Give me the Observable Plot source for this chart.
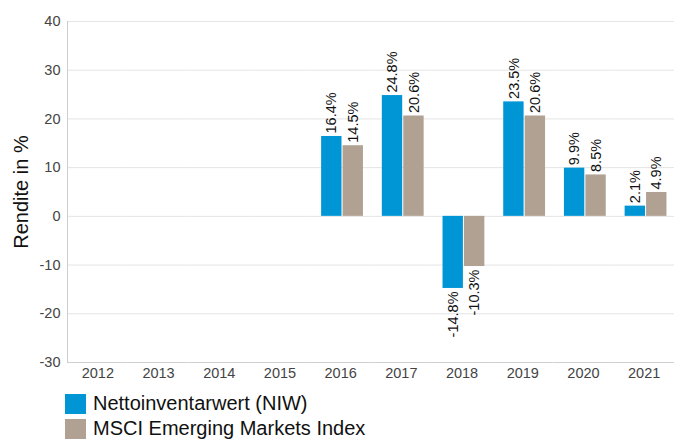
<!DOCTYPE html>
<html>
<head>
<meta charset="utf-8">
<script src="https://cdn.jsdelivr.net/npm/d3@7"></script>
<script src="https://cdn.jsdelivr.net/npm/@observablehq/plot@0.6"></script>
<style>
  body { margin: 0; background: #fff; font-family: "Liberation Sans", Arial, sans-serif; }
  #legend { margin-left: 65px; margin-top: 1px; }
  .item { display: flex; align-items: center; height: 25px; font-size: 20px; color: #111; }
  .sw { width: 21px; height: 20px; margin-right: 7px; }
</style>
</head>
<body>
<div id="chart"></div>
<div id="legend"></div>
<script>
const years = ["2012","2013","2014","2015","2016","2017","2018","2019","2020","2021"];
const niw = [null, null, null, null, 16.4, 24.8, -14.8, 23.5, 9.9, 2.1];
const msci = [null, null, null, null, 14.5, 20.6, -10.3, 20.6, 8.5, 4.9];
const seriesNames = ["Nettoinventarwert (NIW)", "MSCI Emerging Markets Index"];
const seriesColors = ["#0096d6", "#b0a192"];
const yTicks = [-30, -20, -10, 0, 10, 20, 30, 40];

const data = [];
years.forEach((yr, i) => {
  [niw, msci].forEach((arr, s) => {
    data.push({year: yr, series: seriesNames[s], value: arr[i]});
  });
});
const valued = data.filter(d => d.value != null);
const fmt = d => d.value.toFixed(1) + "%";

const plot = Plot.plot({
  width: 674,
  height: 390,
  marginLeft: 67,
  marginRight: 0,
  marginTop: 21,
  marginBottom: 28,
  style: {fontFamily: "Liberation Sans, Arial, sans-serif", fontSize: "14.5px", color: "#444", background: "#fff"},
  fx: {domain: years, padding: 0, round: false, label: null},
  x: {domain: seriesNames, paddingInner: 0.05, paddingOuter: 0.44, align: 0.6, round: false, axis: null},
  y: {domain: [-30, 40], label: null},
  color: {domain: seriesNames, range: seriesColors},
  marks: [
    Plot.ruleY(yTicks.slice(1), {stroke: "#e4e4e4"}),
    Plot.ruleY([-30], {stroke: "#cfcfcf"}),
    Plot.frame({anchor: "left", stroke: "#cfcfcf", facet: "super"}),
    Plot.axisY({ticks: yTicks, tickFormat: d => String(d), tickSize: 0, tickPadding: 7, label: null}),
    Plot.axisY({ticks: [], label: "Rendite in %", labelAnchor: "center", labelArrow: "none", labelOffset: 54, fontSize: 20, color: "#111"}),
    Plot.axisFx({anchor: "bottom", tickSize: 0, tickPadding: 5, label: null}),
    Plot.barY(data, {fx: "year", x: "series", y: "value", fill: "series"}),
    Plot.text(valued.filter(d => d.value >= 0), {fx: "year", x: "series", y: "value", text: fmt, rotate: -90, textAnchor: "start", dy: -3, fontSize: 14.5, fill: "#111"}),
    Plot.text(valued.filter(d => d.value < 0), {fx: "year", x: "series", y: "value", text: fmt, rotate: -90, textAnchor: "end", dy: 3, fontSize: 14.5, fill: "#111"})
  ]
});
document.getElementById("chart").appendChild(plot);

const legend = document.getElementById("legend");
seriesNames.forEach((name, i) => {
  const item = document.createElement("div");
  item.className = "item";
  const sw = document.createElement("span");
  sw.className = "sw";
  sw.style.background = seriesColors[i];
  const label = document.createElement("span");
  label.textContent = name;
  item.appendChild(sw);
  item.appendChild(label);
  legend.appendChild(item);
});
</script>
</body>
</html>
